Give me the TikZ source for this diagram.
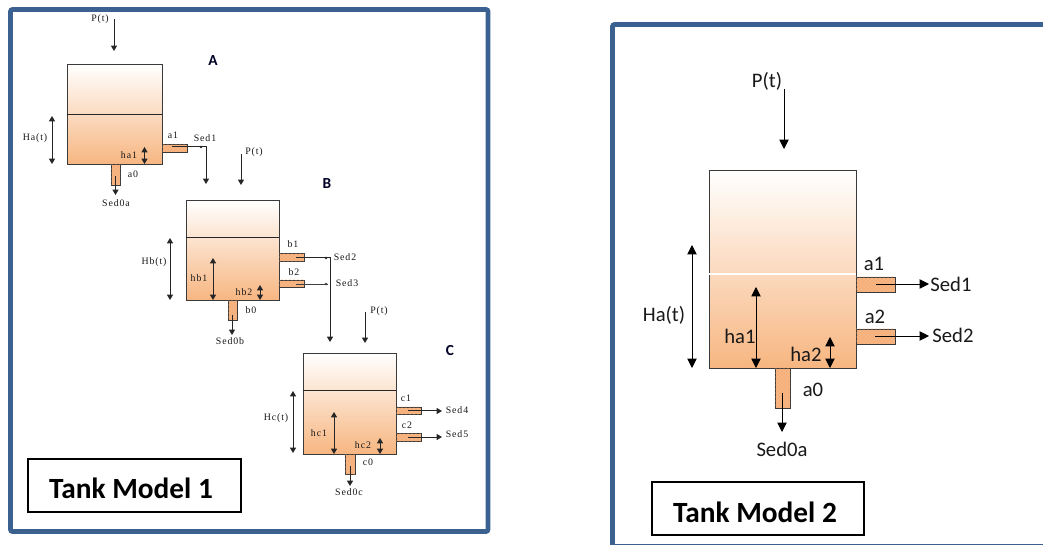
\documentclass[tikz,border=0pt]{standalone}
\usepackage{fontspec}
\setmainfont{Carlito}
\newfontfamily\serifsmall[LetterSpace=9]{Liberation Serif}
\usetikzlibrary{arrows.meta,fit,patterns}
\definecolor{framec}{HTML}{3B6190}
\definecolor{waterc}{HTML}{F7B681}
\definecolor{pipec}{HTML}{F6B583}
\definecolor{dotc}{HTML}{EE9F63}
\definecolor{edgec}{HTML}{3A3A3A}
\tikzset{
  x=0.75pt,y=-0.75pt,
  frameline/.style={draw=framec,line width=3.5pt,rounded corners=1.5pt},
  tankbox/.style={draw=edgec,line width=0.6pt,inner sep=0pt,top color=white,bottom color=waterc,shading angle=0},
  pipebox/.style={draw=edgec,line width=0.7pt,inner sep=0pt,fill=pipec,postaction={pattern=crosshatch dots,pattern color=dotc}},
  lvl/.style={draw=black!85,line width=0.7pt},
  smalltxt/.style={font=\serifsmall\fontsize{7.4pt}{8pt}\selectfont,inner sep=0pt,text=black!90},
  bigtxt/.style={font=\fontsize{15.5pt}{17pt}\selectfont,inner sep=0pt,text=black!90},
  tagtxt/.style={font=\bfseries\fontsize{22pt}{24pt}\selectfont,inner sep=0pt,text=black},
  lettertxt/.style={font=\bfseries\fontsize{11.5pt}{12pt}\selectfont,inner sep=0pt,text=black!85!blue},
  tagbox/.style={draw=black,line width=1pt,fill=white,inner sep=0pt},
  sa/.style={draw=black!85,line width=0.75pt,-{Triangle[length=4pt,width=4.5pt]}},
  sd/.style={draw=black!85,line width=0.75pt,{Triangle[length=4pt,width=4.5pt]}-{Triangle[length=4pt,width=4.5pt]}},
  ba/.style={draw=black,line width=0.7pt,-{Triangle[length=7pt,width=7pt]}},
  bd/.style={draw=black,line width=0.7pt,{Triangle[length=7pt,width=7pt]}-{Triangle[length=7pt,width=7pt]}},
}
% named box drawn from two corners
\newcommand\boxat[6]{%
  \coordinate (#1-a) at (#3,#4);\coordinate (#1-b) at (#5,#6);
  \node[#2,fit=(#1-a)(#1-b)] (#1) {};}
% named connector between two named free ends
\newcommand\conn[6]{%
  \coordinate (#1-s) at (#3,#4);\coordinate (#1-e) at (#5,#6);
  \draw[#2] (#1-s) -- (#1-e);}
\begin{document}
\begin{tikzpicture}
\useasboundingbox (0,0) rectangle (1043,545);
\fill[white] (0,0) rectangle (1043,545);
% frames
\coordinate (f1a) at (10.5,9.5);\coordinate (f1b) at (488,531.5);
\draw[frameline] (f1a) rectangle (f1b);
\coordinate (f2a) at (612.5,24.5);\coordinate (f2b) at (1060,546.5);
\begin{scope}
\clip (0,0) rectangle (1043,545);
\draw[frameline] (f2a) rectangle (f2b);
\end{scope}

% ===== Tank A
\boxat{tA}{tankbox}{67}{64}{162}{164}
\draw[lvl] (tA.west |- 0,114) -- (tA.east |- 0,114);
\boxat{pa1}{pipebox}{162}{144.5}{187}{152}
\boxat{pa0}{pipebox}{111}{164}{120}{185}
\conn{ap}{sa}{114}{19}{114}{51}
\node[smalltxt] (tpa) at (100,19) {P(t)};
\node[lettertxt] (la) at (213,61) {A};
\conn{aH}{sd}{52}{116}{52}{164}
\node[smalltxt] (tHa) at (35,138) {Ha(t)};
\conn{ah1}{sd}{144.5}{147}{144.5}{164}
\node[smalltxt] (tha1) at (129,155) {ha1};
\node[smalltxt] (ta1) at (173,135) {a1};
\node[smalltxt] (tS1) at (205,138) {Sed1};
\coordinate (c1s) at (172,147);\coordinate (c1m) at (206,147);\coordinate (c1e) at (206,184);
\draw[sa] (c1s) -- (c1m) -- (c1e);
\fill[black!85] (201,147) circle (1pt);
\node[smalltxt] (ta0) at (133,174) {a0};
\conn{a0a}{sa}{115.5}{176}{115.5}{195}
\node[smalltxt] (tS0a) at (116,203) {Sed0a};

% ===== Tank B
\boxat{tB}{tankbox}{186}{200}{279}{300}
\draw[lvl] (tB.west |- 0,237) -- (tB.east |- 0,237);
\boxat{pb1}{pipebox}{279}{253.5}{304}{261.5}
\boxat{pb2}{pipebox}{279}{280}{304}{287}
\boxat{pb0}{pipebox}{228}{300}{237}{320}
\conn{bp}{sa}{241}{154}{241}{185}
\node[smalltxt] (tpb) at (254,152) {P(t)};
\node[lettertxt] (lb) at (327,184) {B};
\conn{bH}{sd}{170}{238}{170}{300}
\node[smalltxt] (tHb) at (154,262) {Hb(t)};
\conn{bh1}{sd}{213}{258}{213}{300}
\node[smalltxt] (thb1) at (199,278) {hb1};
\conn{bh2}{sd}{260}{285}{260}{300}
\node[smalltxt] (thb2) at (244,292) {hb2};
\node[smalltxt] (tb1) at (293,244) {b1};
\node[smalltxt] (tb2) at (294,272) {b2};
\node[smalltxt] (tb0) at (251,310) {b0};
\node[smalltxt] (tS2) at (345,257) {Sed2};
\node[smalltxt] (tS3) at (347,283) {Sed3};
\coordinate (c2s) at (296,258);\coordinate (c2m) at (330,258);\coordinate (c2e) at (330,342);
\draw[sa] (c2s) -- (c2m) -- (c2e);
\fill[black!85] (326,258) circle (1pt);
\conn{b2a}{draw=black!75,line width=0.7pt}{296}{284}{328}{284}
\fill[black!75] (326,284) circle (1pt);
\conn{b0a}{sa}{232}{315}{232}{335}
\node[smalltxt] (tS0b) at (230,341) {Sed0b};

% ===== Tank C
\boxat{tC}{tankbox}{303}{353}{396}{454}
\draw[lvl] (tC.west |- 0,390) -- (tC.east |- 0,390);
\boxat{pc1}{pipebox}{396}{407}{421}{414}
\boxat{pc2}{pipebox}{396}{433.5}{421}{441}
\boxat{pc0}{pipebox}{345}{454}{355}{474}
\conn{cp}{sa}{365}{312}{365}{343}
\node[smalltxt] (tpc) at (379,311) {P(t)};
\node[lettertxt] (lc) at (450,351) {C};
\conn{cH}{sd}{293}{391}{293}{453}
\node[smalltxt] (tHc) at (276,418) {Hc(t)};
\conn{ch1}{sd}{334}{412}{334}{454}
\node[smalltxt] (thc1) at (319,433) {hc1};
\conn{ch2}{sd}{380}{438}{380}{454}
\node[smalltxt] (thc2) at (363,445) {hc2};
\node[smalltxt] (tc1) at (406,398) {c1};
\node[smalltxt] (tc2) at (407,425) {c2};
\node[smalltxt] (tc0) at (368,462) {c0};
\conn{c1a}{sa}{408}{411}{442}{411}
\conn{c2a}{sa}{408}{437}{442}{437}
\node[smalltxt] (tS4) at (457,410) {Sed4};
\node[smalltxt] (tS5) at (457,434) {Sed5};
\conn{c0a}{sa}{350}{466}{350}{486}
\node[smalltxt] (tS0c) at (349,492) {Sed0c};

\boxat{tag1}{tagbox}{28}{459}{241}{512}
\node[tagtxt] (tagt1) at (131,488) {Tank Model 1};

% ===== Tank Model 2
\boxat{t2}{tankbox}{709}{170}{856}{368}
\draw[draw=white,line width=1pt] (t2.west |- 0,274) -- (t2.east |- 0,274);
\boxat{q1}{pipebox}{856}{277}{895}{292}
\boxat{q2}{pipebox}{856}{329}{895}{344}
\boxat{q0}{pipebox}{775}{368}{790}{408}
\conn{dp}{ba}{784}{89}{784}{149}
\node[bigtxt] (tp2) at (767,81) {P(t)};
\conn{dH}{bd}{692}{245}{692}{368}
\node[bigtxt] (tH2) at (664,315) {Ha(t)};
\conn{dh1}{bd}{756}{287}{756}{368}
\node[bigtxt] (th21) at (740,336) {ha1};
\conn{dh2}{bd}{830}{337}{830}{368}
\node[bigtxt] (th22) at (806,354) {ha2};
\node[bigtxt] (ta21) at (874,264) {a1};
\node[bigtxt] (ta22) at (875,317) {a2};
\node[bigtxt] (ta20) at (813,390) {a0};
\conn{d1}{ba}{876}{284}{929}{284}
\conn{d2}{ba}{875}{336}{929}{336}
\conn{d0}{ba}{782}{393}{782}{432}
\node[bigtxt] (tS21) at (951,284) {Sed1};
\node[bigtxt] (tS22) at (953,335) {Sed2};
\node[bigtxt] (tS20) at (782,449) {Sed0a};

\boxat{tag2}{tagbox}{652}{482}{864}{535}
\node[tagtxt] (tagt2) at (755,512) {Tank Model 2};
\end{tikzpicture}
\end{document}
